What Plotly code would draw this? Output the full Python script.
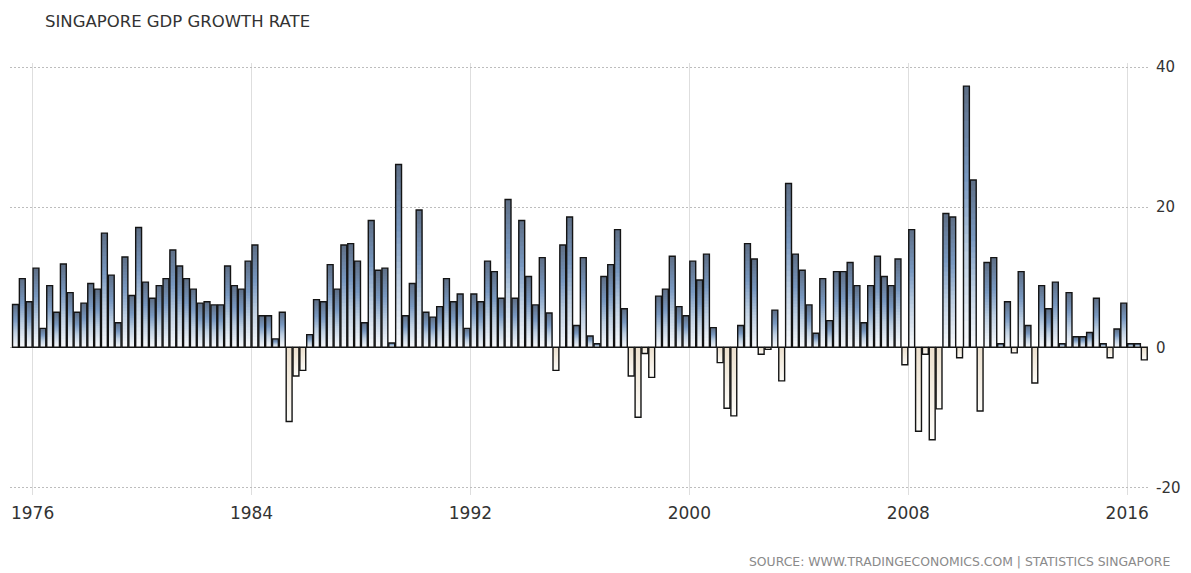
import pandas as pd
import plotly.graph_objects as go

# ---------------- data ----------------
first_quarter = "1975Q2"
last_quarter = "2016Q3"
quarters = pd.period_range(first_quarter, last_quarter, freq="Q")

gdp_growth = [
    # 1975Q2 - 1982Q1
    6.1, 9.8, 6.5, 11.3, 2.7, 8.8, 5.0, 11.9, 7.8, 5.0, 6.3, 9.1, 8.3, 16.3,
    10.3, 3.5, 12.9, 7.4, 17.1, 9.3, 7.0, 8.8, 9.8, 13.9, 11.6, 9.8, 8.3, 6.3,
    # 1982Q2 - 1988Q4
    6.5, 6.05, 6.05, 11.6, 8.8, 8.3, 12.3, 14.6, 4.5, 4.5, 1.2, 5.0, -10.6, -4.1,
    -3.3, 1.8, 6.8, 6.5, 11.8, 8.3, 14.6, 14.8, 12.3, 3.5, 18.1, 11.0, 11.3,
    # 1989Q1 - 1995Q3
    0.6, 26.1, 4.5, 9.1, 19.6, 5.0, 4.3, 5.8, 9.8, 6.5, 7.6, 2.7, 7.6, 6.5,
    12.3, 10.8, 7.0, 21.1, 7.0, 18.1, 10.1, 6.05, 12.8, 4.9, -3.3, 14.6, 18.6,
    # 1995Q4 - 2002Q3
    3.1, 12.8, 1.6, 0.5, 10.1, 11.8, 16.8, 5.5, -4.1, -10.0, -0.9, -4.3, 7.3, 8.3,
    13.0, 5.8, 4.5, 12.3, 9.6, 13.3, 2.8, -2.2, -8.7, -9.8, 3.1, 14.8, 12.6, -1.0,
    # 2002Q4 - 2009Q3
    -0.3, 5.3, -4.8, 23.4, 13.3, 11.0, 6.05, 2.0, 9.8, 3.8, 10.8, 10.8, 12.1, 8.8,
    3.5, 8.8, 13.0, 10.1, 8.8, 12.6, -2.5, 16.8, -12.0, -1.0, -13.2, -8.8, 19.1, 18.6,
    # 2009Q4 - 2016Q3
    -1.5, 37.3, 23.9, -9.1, 12.1, 12.8, 0.5, 6.5, -0.8, 10.8, 3.1, -5.1, 8.8, 5.5,
    9.3, 0.5, 7.8, 1.5, 1.5, 2.1, 7.0, 0.5, -1.5, 2.6, 6.3, 0.5, 0.5, -1.8,
]

x_tick_years = [1976, 1984, 1992, 2000, 2008, 2016]
x_tick_labels = ["1976", "1984", "1992", "2000", "2008", "2016"]
y_tick_values = [-20, 0, 20, 40]
y_tick_labels = ["-20", "0", "20", "40"]

title_text = "SINGAPORE GDP GROWTH RATE"
source_text = "SOURCE: WWW.TRADINGECONOMICS.COM | STATISTICS SINGAPORE"

# ---------------- helpers ----------------
def hex2rgb(h):
    h = h.lstrip("#")
    return tuple(int(h[i:i + 2], 16) for i in (0, 2, 4))


def grad(stops, f):
    for (f0, c0), (f1, c1) in zip(stops[:-1], stops[1:]):
        if f0 <= f <= f1:
            t = (f - f0) / (f1 - f0) if f1 > f0 else 0
            a, b = hex2rgb(c0), hex2rgb(c1)
            r = [round(a[i] + (b[i] - a[i]) * t) for i in range(3)]
            return f"rgb({r[0]},{r[1]},{r[2]})"
    return stops[-1][1]


# fraction measured from the zero line towards the bar tip
pos_stops = [(0.0, "#fafbfd"), (0.35, "#bfd0e3"), (0.65, "#7898c0"), (1.0, "#5e6e85")]
neg_stops = [(0.0, "#ece0cd"), (1.0, "#fdfcf9")]

x_pos = [p.year + (p.quarter - 1) / 4 + 0.125 for p in quarters]
bar_width = 0.215

fig = go.Figure()

# gradient fill: nested bars, tallest (tip colour) first, shorter ones on top
N = 30
for j in range(N, 0, -1):
    frac = j / N
    f = (j - 0.5) / N
    colors = [grad(pos_stops, f) if v >= 0 else grad(neg_stops, f) for v in gdp_growth]
    fig.add_trace(go.Bar(
        x=x_pos,
        y=[v * frac for v in gdp_growth],
        base=0,
        width=bar_width,
        marker=dict(color=colors, line=dict(width=0)),
        hoverinfo="skip",
        showlegend=False,
    ))

# outline
fig.add_trace(go.Bar(
    x=x_pos,
    y=gdp_growth,
    base=0,
    width=bar_width,
    marker=dict(color="rgba(0,0,0,0)", line=dict(color="#141414", width=1.4)),
    customdata=[str(p) for p in quarters],
    hovertemplate="%{customdata}: %{y}<extra></extra>",
    showlegend=False,
))

W, H = 1191, 573
plot_left, plot_right = 10, 1155
plot_top, plot_bottom = 62.5, 495.2

fig.update_layout(
    width=W, height=H,
    barmode="overlay",
    paper_bgcolor="white",
    plot_bgcolor="white",
    margin=dict(l=plot_left, r=W - plot_right, t=plot_top, b=H - plot_bottom, pad=0),
    font=dict(family="DejaVu Sans", color="#333333"),
    title=dict(
        text=title_text,
        xref="container", yref="container",
        x=45 / W, y=1 - 21 / H,
        xanchor="left", yanchor="middle",
        font=dict(size=16.5, color="#333333", family="DejaVu Sans"),
    ),
    xaxis=dict(
        range=[1975.175, 2016.797],
        tickvals=x_tick_years,
        ticktext=x_tick_labels,
        showgrid=True,
        gridcolor="#dedede",
        gridwidth=1,
        zeroline=False,
        showline=False,
        ticks="",
        tickfont=dict(size=17, color="#333333"),
        ticklabelstandoff=6,
    ),
    yaxis=dict(
        range=[-21.1, 40.6],
        side="right",
        tickvals=y_tick_values,
        ticktext=y_tick_labels,
        showgrid=True,
        gridcolor="#bdbdbd",
        gridwidth=1,
        griddash="2px,2px",
        zeroline=False,
        showline=False,
        ticks="",
        tickfont=dict(size=15, color="#333333"),
        ticklabelstandoff=6,
    ),
    annotations=[dict(
        text=source_text,
        xref="paper", yref="paper",
        x=(1178 - plot_left) / (plot_right - plot_left),
        y=(plot_bottom - 562) / (plot_bottom - plot_top),
        xanchor="right", yanchor="middle",
        showarrow=False,
        font=dict(size=12.4, color="#8a8a8a", family="DejaVu Sans"),
    )],
)

fig.write_html("out.html")
